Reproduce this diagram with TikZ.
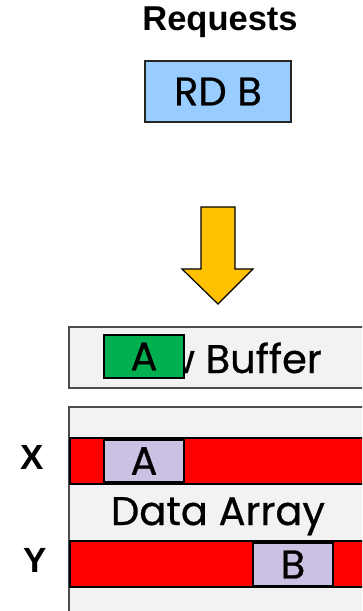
\documentclass[tikz,border=0pt]{standalone}
\usepackage{fontspec}
\setmainfont{Poppins}[FakeBold=0.6]
\setsansfont{Liberation Sans}
\newcommand{\bigfont}{\fontsize{40}{44}\selectfont}
\newcommand{\headfont}{\sffamily\bfseries\fontsize{34.5}{38}\selectfont}
\newcommand{\sidefont}{\sffamily\bfseries\fontsize{35}{38}\selectfont}
\definecolor{reqblue}{HTML}{99CCFF}
\definecolor{hitgreen}{HTML}{00B050}
\definecolor{lav}{HTML}{CCC1E2}
\definecolor{gold}{HTML}{FFC000}
\definecolor{panelgray}{HTML}{F2F2F2}
\definecolor{rowred}{HTML}{FF0000}
\begin{document}
\begin{tikzpicture}[x=1pt,y=-1pt,
  box/.style={draw=black!85, line width=1.4pt, inner sep=0pt, outer sep=0pt},
  panel/.style={box, draw=black!70, fill=panelgray},
  rowstyle/.style={box, draw=black, fill=rowred},
  cell/.style={box, draw=black, minimum width=80pt, font=\bigfont},
  sidelabel/.style={inner sep=0pt, font=\sidefont},
  bigtext/.style={inner sep=0pt, font=\bigfont}]
\useasboundingbox (0,0) rectangle (362,611);
\clip (0,0) rectangle (362,611);

% incoming request
\node[inner sep=0pt, font=\headfont] (req) at (220,22) {Requests};
\node[box, fill=reqblue, minimum width=146pt, minimum height=61pt, font=\bigfont] (rdb) at (218,91.5) {RD B};

% block arrow towards the cache
\coordinate (atl) at (201,207);
\coordinate (atr) at (235,207);
\coordinate (tip) at (218,304);
\draw[fill=gold, line width=1.2pt, line join=miter]
  (atl) -- (atr) -- (235,269) -- (253,269) -- (tip) -- (182,269) -- (201,269) -- cycle;

% row buffer
\node[panel, anchor=north west, minimum width=320pt, minimum height=61pt] (rowbuf) at (69,327) {};
\node[bigtext, anchor=base east] (rowtext) at (322,373) {Row Buffer};
\node[cell, fill=hitgreen, minimum height=43pt] (bufA) at (144,356.5) {A};

% data array with two rows
\node[panel, anchor=north west, minimum width=320pt, minimum height=240pt] (array) at (69,407) {};
\node[rowstyle, anchor=north west, minimum width=320pt, minimum height=46pt] (rowX) at (70,438) {};
\node[cell, fill=lav, minimum height=42pt] (cellA) at (144,461) {A};
\node[bigtext, anchor=base] (arraytext) at (218,525) {Data Array};
\node[rowstyle, anchor=north west, minimum width=320pt, minimum height=46pt] (rowY) at (70,541) {};
\node[cell, fill=lav, minimum height=43pt] (cellB) at (293,564.5) {B};

% row names
\node[sidelabel] (xlab) at (32.5,457) {X};
\node[sidelabel] (ylab) at (35.5,560) {Y};
\end{tikzpicture}
\end{document}
